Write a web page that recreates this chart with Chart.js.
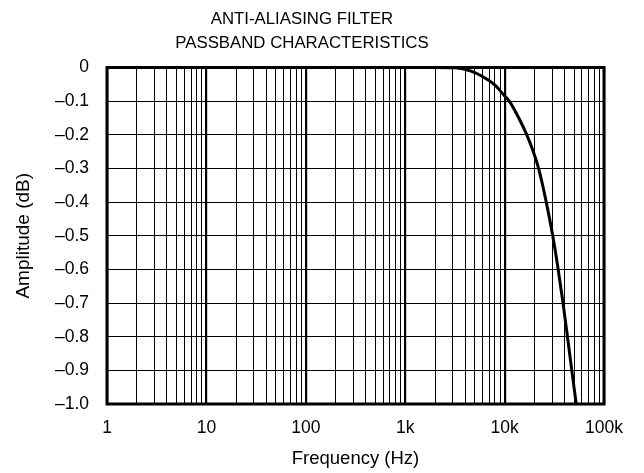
<!DOCTYPE html>
<html>
<head>
<meta charset="utf-8">
<script src="https://cdn.jsdelivr.net/npm/chart.js@4.4.1/dist/chart.umd.min.js"></script>
<style>
  html, body { margin: 0; padding: 0; background: #fff; }
  #wrap { width: 644px; height: 473px; }
</style>
</head>
<body>
<div id="wrap"><canvas id="c" width="644" height="473"></canvas></div>
<script>
// ---- data ----
const titleLines = ['ANTI-ALIASING FILTER', 'PASSBAND CHARACTERISTICS'];
const xAxisTitle = 'Frequency (Hz)';
const yAxisTitle = 'Amplitude (dB)';

const freqHz = [1, 10, 100, 1000, 2000, 3200, 4520, 6110, 8060, 9770, 11150, 13890, 16720, 19430, 21970, 26250, 30500, 34600, 38700, 42900, 47400, 52600];
const amplitudeDb = [0, 0, 0, 0, 0, -0.001, -0.01, -0.028, -0.053, -0.081, -0.1, -0.15, -0.2, -0.25, -0.3, -0.4, -0.5, -0.6, -0.7, -0.8, -0.9, -1.0];

const xMajorValues = [1, 10, 100, 1000, 10000, 100000];
const xMajorLabels = ['1', '10', '100', '1k', '10k', '100k'];
const yTickValues = [0, -0.1, -0.2, -0.3, -0.4, -0.5, -0.6, -0.7, -0.8, -0.9, -1.0];
const yTickLabels = ['0', '\u20130.1', '\u20130.2', '\u20130.3', '\u20130.4', '\u20130.5', '\u20130.6', '\u20130.7', '\u20130.8', '\u20130.9', '\u20131.0'];

// all grid tick values on the log axis: 1..9 x each decade, plus the last decade line
const xGridValues = [];
for (let d = 0; d < 5; d++) {
  for (let m = 1; m <= 9; m++) xGridValues.push(m * Math.pow(10, d));
}
xGridValues.push(100000);

const FONT = '"Liberation Sans", Arial, Helvetica, sans-serif';
const isDecade = v => {
  const l = Math.log10(v);
  return Math.abs(l - Math.round(l)) < 1e-9;
};

const frame = {
  id: 'frame',
  afterDatasetsDraw(chart) {
    const { ctx, chartArea: a } = chart;
    ctx.save();
    ctx.strokeStyle = '#000';
    ctx.lineWidth = 3;
    ctx.strokeRect(a.left, a.top, a.right - a.left, a.bottom - a.top);
    ctx.restore();
  }
};

new Chart(document.getElementById('c'), {
  type: 'line',
  data: {
    datasets: [{
      data: freqHz.map((f, i) => ({ x: f, y: amplitudeDb[i] })),
      borderColor: '#000',
      borderWidth: 3,
      pointRadius: 0,
      cubicInterpolationMode: 'monotone',
      fill: false,
      clip: false
    }]
  },
  options: {
    responsive: false,
    animation: false,
    devicePixelRatio: 1,
    layout: { padding: { left: 0, right: 40, top: 0, bottom: 0 } },
    plugins: {
      legend: { display: false },
      tooltip: { enabled: false },
      title: {
        display: true,
        text: titleLines,
        color: '#000',
        font: { family: FONT, size: 16.8, weight: 'normal', lineHeight: 24 / 16.8 },
        padding: { top: 7, bottom: 12.5 }
      }
    },
    scales: {
      x: {
        type: 'logarithmic',
        min: 1,
        max: 100000,
        afterBuildTicks: s => { s.ticks = xGridValues.map(v => ({ value: v })); },
        afterFit: s => { s.height = 69; },
        ticks: {
          autoSkip: false,
          maxRotation: 0,
          minRotation: 0,
          padding: 14,
          color: '#000',
          font: { family: FONT, size: 17.5 },
          callback: v => {
            const i = xMajorValues.findIndex(m => Math.abs(m - v) < 1e-6 * m);
            return i >= 0 ? xMajorLabels[i] : '';
          }
        },
        grid: {
          drawTicks: false,
          color: '#000',
          lineWidth: c => (c.tick && isDecade(c.tick.value)) ? 2.2 : 1
        },
        border: { display: false },
        title: {
          display: true,
          text: xAxisTitle,
          color: '#000',
          font: { family: FONT, size: 18.5 },
          padding: { top: 0, bottom: 3.4 }
        }
      },
      y: {
        min: -1,
        max: 0,
        afterBuildTicks: s => { s.ticks = yTickValues.map(v => ({ value: v })); },
        afterFit: s => { s.width = 107; },
        ticks: {
          autoSkip: false,
          padding: 18,
          color: '#000',
          font: { family: FONT, size: 17.5 },
          callback: v => {
            const i = yTickValues.findIndex(t => Math.abs(t - v) < 1e-6);
            return i >= 0 ? yTickLabels[i] : '';
          }
        },
        grid: { drawTicks: false, color: '#000', lineWidth: 1 },
        border: { display: false },
        title: {
          display: true,
          text: yAxisTitle,
          color: '#000',
          font: { family: FONT, size: 19 },
          padding: { top: 12.6, bottom: 0 }
        }
      }
    }
  },
  plugins: [frame]
});
</script>
</body>
</html>
